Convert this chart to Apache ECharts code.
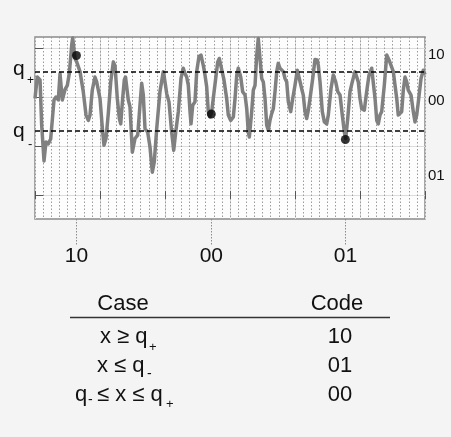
<!DOCTYPE html>
<html>
<head>
<meta charset="utf-8">
<title>Signal coding</title>
<style>
  html, body { margin: 0; padding: 0; background: #f4f4f4; }
  #chart { width: 451px; height: 437px; }
</style>
<script src="https://cdn.jsdelivr.net/npm/echarts@6/dist/echarts.min.js"></script>
</head>
<body>
<div id="chart"></div>
<script>
// sample times (grid units) and signal values
var sampleT = [
  0, 0.28, 0.62, 0.82, 1.11, 1.35, 1.64, 1.93, 2.34, 2.58,
  2.87, 3.08, 3.36, 3.69, 3.98, 4.22, 4.52, 4.64, 4.92, 5.13,
  5.54, 5.94, 6.28, 6.56, 6.77, 7.05, 7.38, 7.59, 8.0, 8.33,
  8.49, 8.74, 9.02, 9.32, 9.64, 9.85, 10.13, 10.38, 10.55, 10.79,
  10.99, 11.14, 11.48, 11.69, 11.98, 12.31, 12.64, 12.92, 13.13, 13.33,
  13.54, 13.87, 14.15, 14.44, 14.68, 14.98, 15.38, 15.79, 16.0, 16.21,
  16.49, 16.82, 17.07, 17.32, 17.64, 17.97, 18.25, 18.46, 18.67, 18.87,
  19.08, 19.2, 19.41, 19.69, 19.9, 20.18, 20.43, 20.71, 20.92, 21.13,
  21.33, 21.54, 21.75, 21.94, 22.24, 22.49, 22.68, 22.98, 23.26, 23.59,
  23.79, 24.09, 24.41, 24.62, 24.83, 25.02, 25.32, 25.56, 25.85, 26.06,
  26.25, 26.38, 26.67, 26.87, 27.08, 27.29, 27.48, 27.69, 27.9, 28.1,
  28.31, 28.52, 28.71, 28.92, 29.13, 29.33, 29.54, 29.75, 29.94, 30.15,
  30.56, 30.77, 30.98, 31.18, 31.47, 31.72, 32.0, 32.28, 32.53, 32.82,
  33.02, 33.23, 33.44, 33.64, 33.85, 34.18, 34.46, 34.74, 34.87, 35.08,
  35.36, 35.61, 35.9, 36.1, 36.43, 36.71, 37.01, 37.26, 37.54, 37.82,
  38.07, 38.24, 38.49, 38.77, 39.05, 39.38, 39.59, 39.79, 40.0, 40.21,
  40.53, 40.82, 41.11, 41.44, 41.64, 41.85, 42.06, 42.25, 42.46, 42.67,
  42.99, 43.29, 43.57, 43.82, 44.1, 44.31, 44.52, 44.71, 44.92, 45.13,
  45.33, 45.54, 45.75, 45.94, 46.28, 46.56, 46.77, 46.98, 47.18, 47.51,
  47.79, 48.0
];
var signal = [
  1.98, 2.42, 2.36, 1.44, 0.70, 1.09, 1.05, 1.15, 1.95, 2.01,
  1.95, 2.49, 1.95, 2.16, 2.25, 2.49, 3.08, 3.22, 2.80, 2.73,
  2.53, 2.12, 1.64, 1.53, 1.64, 2.15, 2.42, 2.32, 1.98, 1.29,
  1.02, 1.16, 1.67, 2.32, 2.73, 2.65, 1.98, 1.57, 1.46, 1.98,
  2.36, 2.42, 1.95, 1.81, 0.88, 1.16, 1.23, 1.84, 2.29, 2.05,
  1.36, 1.29, 0.99, 0.47, 0.68, 1.36, 2.12, 2.53, 2.32, 2.08,
  1.91, 1.29, 0.92, 1.29, 1.71, 2.39, 2.60, 2.49, 2.42, 2.25,
  1.71, 1.46, 1.84, 1.91, 2.53, 2.84, 2.87, 2.66, 2.46, 2.22,
  1.71, 1.60, 1.71, 1.98, 2.39, 2.73, 2.80, 2.57, 2.36, 1.98,
  1.64, 1.53, 1.60, 1.98, 2.46, 2.60, 2.42, 2.12, 2.05, 1.77,
  1.29, 1.19, 1.71, 2.15, 2.25, 2.87, 3.21, 2.80, 2.39, 2.32,
  1.98, 1.43, 1.33, 1.53, 1.67, 1.77, 2.12, 2.53, 2.70, 2.60,
  2.53, 2.39, 2.32, 1.91, 1.71, 1.98, 2.25, 2.56, 2.39, 2.18,
  2.05, 1.71, 1.57, 1.74, 1.98, 2.39, 2.78, 2.77, 2.66, 2.32,
  1.71, 1.50, 1.46, 1.64, 2.18, 2.46, 2.32, 2.12, 2.05, 1.64,
  1.29, 1.16, 1.57, 2.12, 2.32, 2.53, 2.56, 2.32, 1.98, 1.77,
  1.74, 2.12, 2.46, 2.60, 2.56, 1.98, 1.53, 1.46, 1.64, 1.71,
  2.25, 2.87, 2.77, 2.66, 2.53, 2.25, 1.98, 1.64, 1.60, 1.71,
  2.15, 2.42, 2.32, 2.15, 2.05, 1.71, 1.50, 1.64, 1.91, 2.39,
  2.56, 2.47
];

var qPlus = 2.53;
var qMinus = 1.31;

// sampled points and their codes
var markT = [5.1, 21.7, 38.2];
var markX = [2.86, 1.66, 1.14];
var markCodes = ["10", "00", "01"];

var levelTicks = [0, 1, 2, 3];
var rightLevels = [2.88, 1.93, 0.39];
var rightCodes = ["10", "00", "01"];

var tableCodes = ["10", "01", "00"];

var FONT = "Liberation Sans, Arial, sans-serif";
var INK = "#111";

var chart = echarts.init(document.getElementById("chart"));

var linePoints = sampleT.map(function (t, i) { return [t, signal[i]]; });
var markPoints = markT.map(function (t, i) { return [t, markX[i]]; });

function txt(text, x, y, size, align) {
  return {
    type: "text",
    silent: true,
    style: {
      text: text, x: x, y: y,
      font: size + "px " + FONT,
      fill: INK,
      align: align || "left",
      verticalAlign: "middle"
    }
  };
}

var graphics = [
  // q labels on the left
  txt("q", 13, 69, 21), txt("+", 27, 81, 12),
  txt("q", 13, 131, 21), txt("-", 28, 144, 13),
  // table
  txt("Case", 123, 304, 22, "center"),
  txt("Code", 337, 304, 22, "center"),
  {
    type: "line", silent: true,
    shape: { x1: 70, y1: 317.5, x2: 390, y2: 317.5 },
    style: { stroke: "#333", lineWidth: 1.5 }
  },
  txt("x \u2265 q", 100, 337, 22), txt("+", 149, 347, 13),
  txt("x \u2264 q", 97, 366, 22), txt("-", 147, 374, 14),
  txt("q", 75, 395, 22), txt("-", 88, 400, 14),
  txt("\u2264 x \u2264 q", 97, 395, 22), txt("+", 166, 404, 13),
  txt(tableCodes[0], 340, 337, 22, "center"),
  txt(tableCodes[1], 340, 366, 22, "center"),
  txt(tableCodes[2], 340, 395, 22, "center")
];

// side ticks sit just inside the frame: axis moved in by 4px, ticks point out
var sideTick = { show: true, inside: false, length: 4, customValues: levelTicks, lineStyle: { color: "#555" } };

chart.setOption({
  backgroundColor: "#f4f4f4",
  animation: false,
  grid: {
    left: 35, top: 37, right: 26, bottom: 218,
    show: true,
    backgroundColor: "#fdfdfd",
    borderColor: "#8a8a8a",
    borderWidth: 1.5
  },
  xAxis: [
    {
      type: "value", position: "bottom",
      min: 0, max: 48, interval: 8,
      axisLine: { show: false },
      axisTick: { show: true, inside: true, length: 4, lineStyle: { color: "#555" } },
      axisLabel: { show: false },
      splitLine: { show: true, lineStyle: { color: "#dcdcdc", width: 1 } },
      minorTick: { show: false, splitNumber: 8 },
      minorSplitLine: { show: true, lineStyle: { color: "#9a9a9a", width: 1, type: [1.5, 2] } }
    },
    {
      type: "value", position: "top",
      min: 0, max: 48, interval: 8,
      axisLine: { show: false },
      axisTick: { show: true, inside: true, length: 4, lineStyle: { color: "#555" } },
      axisLabel: { show: false },
      splitLine: { show: true, lineStyle: { color: "#9a9a9a", width: 1, type: [1.5, 2] } }
    },
    {
      type: "value", position: "bottom",
      min: 0, max: 48,
      axisLine: { show: false },
      axisTick: {
        show: true, inside: false, length: 26, customValues: markT,
        lineStyle: { color: "#8a8a8a", width: 1, type: [1.5, 1.5] }
      },
      axisLabel: {
        show: true, customValues: markT, margin: 37,
        verticalAlign: "middle",
        color: INK, fontSize: 21, fontFamily: FONT,
        formatter: function (v) {
          var k = markT.indexOf(v);
          return k >= 0 ? markCodes[k] : "";
        }
      },
      splitLine: { show: false }
    }
  ],
  yAxis: [
    {
      type: "value", position: "left", offset: -4,
      min: -0.49, max: 3.24,
      axisLine: { show: false },
      axisTick: sideTick,
      axisLabel: { show: false },
      splitLine: { show: true, lineStyle: { color: "#dcdcdc", width: 1 } }
    },
    {
      type: "value", position: "right", offset: -4,
      min: -0.49, max: 3.24,
      axisLine: { show: false },
      axisTick: sideTick,
      axisLabel: {
        show: true, customValues: rightLevels, margin: 7,
        color: INK, fontSize: 15, fontFamily: FONT,
        formatter: function (v) {
          var k = rightLevels.indexOf(v);
          return k >= 0 ? rightCodes[k] : "";
        }
      },
      splitLine: { show: false }
    }
  ],
  series: [
    {
      type: "line",
      xAxisIndex: 0, yAxisIndex: 0,
      data: linePoints,
      showSymbol: false,
      symbol: "none",
      lineStyle: { color: "#808080", width: 3.5, join: "round" },
      z: 3
    },
    {
      type: "scatter",
      xAxisIndex: 0, yAxisIndex: 0,
      data: markPoints,
      symbol: "circle",
      symbolSize: 9,
      itemStyle: { color: "#000" },
      z: 5,
      markLine: {
        silent: true,
        symbol: ["none", "none"],
        label: { show: false },
        lineStyle: { color: "#000", width: 1.5, type: [5, 3] },
        data: [{ yAxis: qPlus }, { yAxis: qMinus }]
      }
    }
  ],
  graphic: graphics
});
</script>
</body>
</html>
